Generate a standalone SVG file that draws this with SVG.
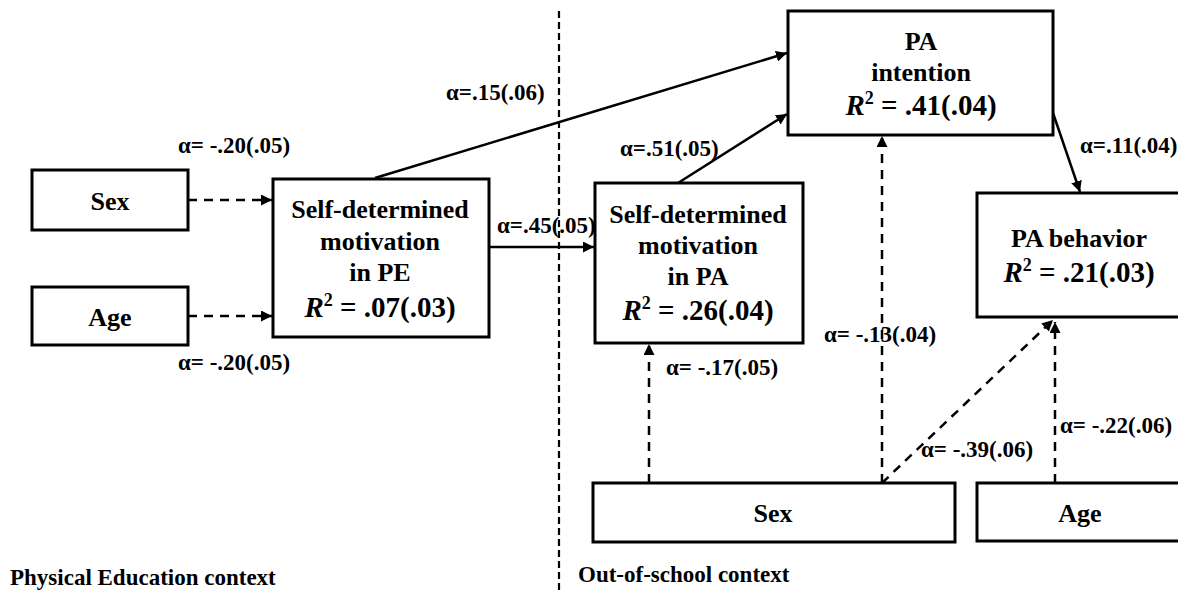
<svg xmlns="http://www.w3.org/2000/svg" width="1178" height="594" viewBox="0 0 1178 594">
<defs>
<style>
.box{fill:#fff;stroke:#000;stroke-width:3}
.nt{font-family:"Liberation Serif","Times New Roman",serif;font-weight:bold;font-size:26px;fill:#000;text-anchor:middle}
.r2{font-family:"Liberation Serif","Times New Roman",serif;font-weight:bold;font-size:29px;fill:#000;text-anchor:middle}
.lb{font-family:"Liberation Serif","Times New Roman",serif;font-weight:bold;font-size:23px;fill:#000}
.ctx{font-family:"Liberation Serif","Times New Roman",serif;font-weight:bold;font-size:23px;fill:#000}
.solid{fill:none;stroke:#000;stroke-width:2.5;marker-end:url(#ah)}
.dash{fill:none;stroke:#000;stroke-width:2.5;stroke-dasharray:9 7;marker-end:url(#ah)}
.sep{fill:none;stroke:#000;stroke-width:2.2;stroke-dasharray:7 4}
</style>
<marker id="ah" viewBox="0 0 10 10" refX="10" refY="5" markerWidth="4.4" markerHeight="4.4" orient="auto" markerUnits="strokeWidth">
<path d="M0,0 L10,5 L0,10 z" fill="#000"/>
</marker>
</defs>
<rect width="1178" height="594" fill="#fff"/>

<g id="separator">
<line class="sep" x1="559" y1="11" x2="559" y2="594"/>
</g>

<g id="connectors">
<line class="dash" x1="188" y1="200" x2="272" y2="200"/>
<line class="dash" x1="188" y1="316" x2="272" y2="316"/>
<line class="solid" x1="489" y1="247" x2="594" y2="247"/>
<line class="solid" x1="375" y1="178" x2="787" y2="53"/>
<line class="solid" x1="678" y1="183" x2="787" y2="114"/>
<line class="solid" x1="1053" y1="113" x2="1080" y2="192"/>
<line class="dash" x1="649" y1="483" x2="649" y2="344"/>
<line class="dash" x1="882" y1="483" x2="882" y2="136"/>
<line class="dash" x1="882" y1="483" x2="1053" y2="320"/>
<line class="dash" x1="1055" y1="483" x2="1055" y2="322"/>
</g>

<g id="node-sex-pe">
<rect class="box" x="32" y="170" width="156" height="60"/>
<text class="nt" x="110" y="210">Sex</text>
</g>
<g id="node-age-pe">
<rect class="box" x="32" y="287" width="156" height="58"/>
<text class="nt" x="110" y="326">Age</text>
</g>
<g id="node-sdm-pe">
<rect class="box" x="273" y="179" width="216" height="158"/>
<text class="nt" x="380" y="218">Self-determined</text>
<text class="nt" x="380" y="250">motivation</text>
<text class="nt" x="380" y="281">in PE</text>
<text class="r2" x="380" y="317"><tspan font-style="italic">R</tspan><tspan font-size="18" dy="-11">2</tspan><tspan dy="11"> = .07(.03)</tspan></text>
</g>
<g id="node-sdm-pa">
<rect class="box" x="595" y="183" width="208" height="160"/>
<text class="nt" x="698" y="223">Self-determined</text>
<text class="nt" x="698" y="254">motivation</text>
<text class="nt" x="698" y="285">in PA</text>
<text class="r2" x="698" y="320"><tspan font-style="italic">R</tspan><tspan font-size="18" dy="-11">2</tspan><tspan dy="11"> = .26(.04)</tspan></text>
</g>
<g id="node-pa-intention">
<rect class="box" x="788" y="11" width="265" height="124"/>
<text class="nt" x="921" y="50">PA</text>
<text class="nt" x="921" y="81">intention</text>
<text class="r2" x="921" y="115"><tspan font-style="italic">R</tspan><tspan font-size="18" dy="-11">2</tspan><tspan dy="11"> = .41(.04)</tspan></text>
</g>
<g id="node-pa-behavior">
<rect class="box" x="977" y="193" width="210" height="124"/>
<text class="nt" x="1079" y="247">PA behavior</text>
<text class="r2" x="1079" y="282"><tspan font-style="italic">R</tspan><tspan font-size="18" dy="-11">2</tspan><tspan dy="11"> = .21(.03)</tspan></text>
</g>
<g id="node-sex-out">
<rect class="box" x="593" y="483" width="362" height="59"/>
<text class="nt" x="773" y="522">Sex</text>
</g>
<g id="node-age-out">
<rect class="box" x="977" y="483" width="210" height="58"/>
<text class="nt" x="1080" y="522">Age</text>
</g>

<g id="labels">
<text class="lb" x="178" y="153">α= -.20(.05)</text>
<text class="lb" x="178" y="370">α= -.20(.05)</text>
<text class="lb" x="446" y="100">α=.15(.06)</text>
<text class="lb" x="497" y="233">α=.45(.05)</text>
<text class="lb" x="620" y="156">α=.51(.05)</text>
<text class="lb" x="1080" y="153">α=.11(.04)</text>
<text class="lb" x="824" y="342">α= -.13(.04)</text>
<text class="lb" x="666" y="375">α= -.17(.05)</text>
<text class="lb" x="921" y="457">α= -.39(.06)</text>
<text class="lb" x="1060" y="433">α= -.22(.06)</text>
</g>

<g id="contexts">
<text class="ctx" x="10" y="585">Physical Education context</text>
<text class="ctx" x="578" y="582">Out-of-school context</text>
</g>
</svg>
